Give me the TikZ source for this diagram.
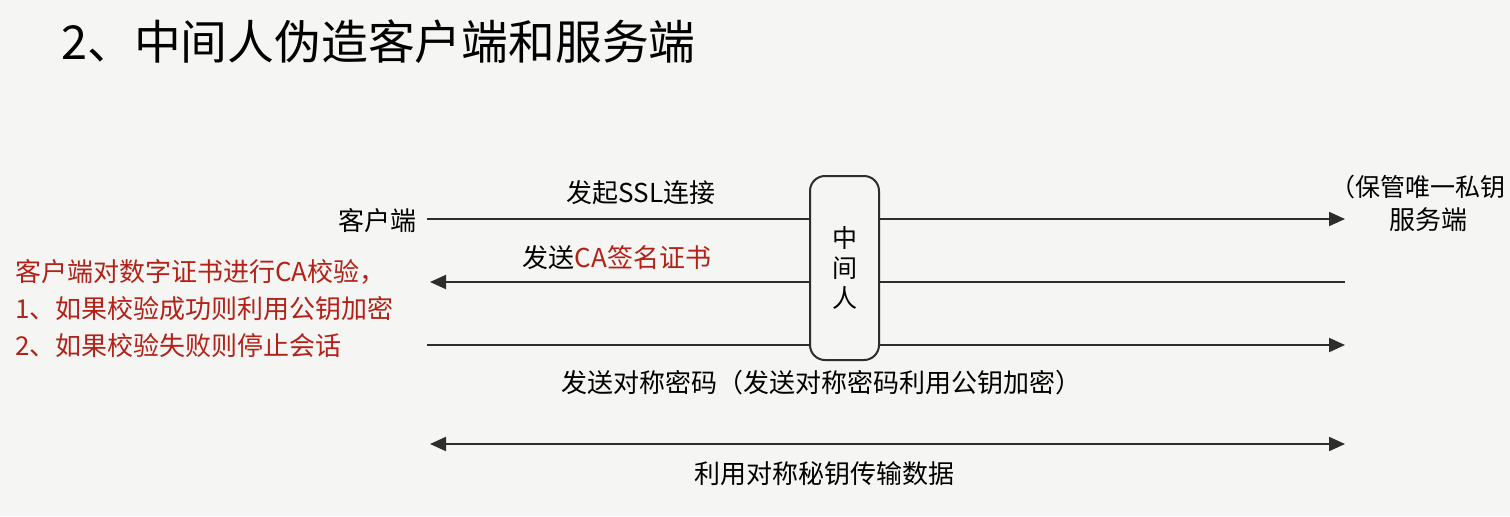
\documentclass[tikz,border=0pt]{standalone}
\usepackage{fontspec}
\setmainfont{Noto Sans CJK SC}
\usepackage{xcolor}
\usetikzlibrary{arrows.meta,positioning}
\definecolor{bg}{RGB}{245,245,243}
\definecolor{warn}{RGB}{178,34,24}
\definecolor{wire}{RGB}{45,45,45}

\begin{document}
\begin{tikzpicture}[x=0.5pt,y=-0.5pt,>={Triangle[length=8pt,width=7pt]},
	msg/.style={draw=wire,line width=1pt},
	lbl/.style={font=\fontsize{13}{16}\selectfont,text=black,inner sep=0pt}]
	\fill[bg] (0,0) rectangle (1510,516);
	\useasboundingbox (0,0) rectangle (1510,516);
	% 标题
	\node[anchor=west,inner sep=0pt,font=\fontsize{23.4}{28}\selectfont] (title) at (61,42) {2、中间人伪造客户端和服务端};
	% 两端
	\node[lbl,anchor=east] (client) at (417,221) {客户端};
	\node[lbl,anchor=east,font=\fontsize{12.5}{16}\selectfont] (srvnote) at (1506,187) {（保管唯一私钥};
	\node[lbl] (server) at (1428,220) {服务端};
	\coordinate (c1) at (427,219);  \coordinate (s1) at (1345,219);
	\coordinate (c2) at (430,282);  \coordinate (s2) at (1345,282);
	\coordinate (c3) at (427,345);  \coordinate (s3) at (1345,345);
	\coordinate (c4) at (430,444);  \coordinate (s4) at (1345,444);
	% 报文
	\draw[msg,->] (c1) -- (s1);
	\draw[msg,->] (s2) -- (c2);
	\draw[msg,->] (c3) -- (s3);
	\draw[msg,<->] (c4) -- (s4);
	\node[draw=wire,line width=1pt,fill=bg,rounded corners=7.5pt,minimum width=34.5pt,minimum height=92pt,
		align=center,font=\fontsize{12.5}{15}\selectfont] (mitm) at (844.5,268) {中\\间\\人};
	% 文字
	\node[lbl] (syn) at (641,193) {发起SSL连接};
	\node[lbl] (cert) at (617,258) {发送\textcolor{warn}{CA签名证书}};
	\node[lbl,text=warn,anchor=west,align=left,font=\fontsize{13}{18.5}\selectfont] (check) at (15,309)
		{客户端对数字证书进行CA校验，\\1、如果校验成功则利用公钥加密\\2、如果校验失败则停止会话};
	\node[lbl] (key) at (821,383) {发送对称密码（发送对称密码利用公钥加密）};
	\node[lbl] (data) at (824,474) {利用对称秘钥传输数据};
\end{tikzpicture}
\end{document}
